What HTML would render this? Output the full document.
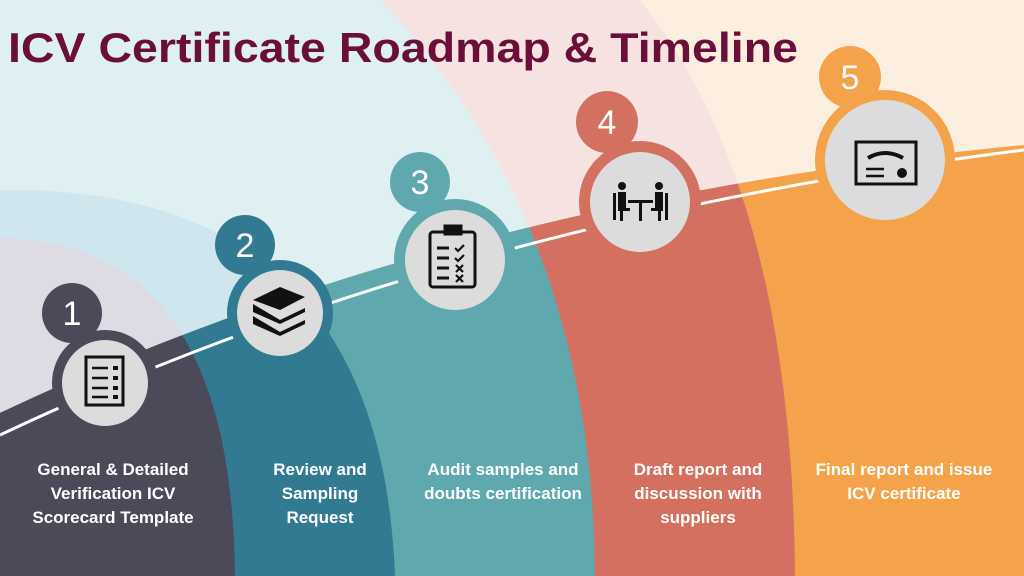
<!DOCTYPE html>
<html><head><meta charset="utf-8"><style>
html,body{margin:0;padding:0;width:1024px;height:576px;overflow:hidden;background:#fdefdf}
svg{display:block}
text{font-family:"Liberation Sans Narrow","Liberation Sans",sans-serif;font-weight:bold}
</style></head><body>
<svg width="1024" height="576" viewBox="0 0 1024 576" xmlns="http://www.w3.org/2000/svg">
<defs>
<clipPath id="below"><path d="M0,413 Q450,200 1024,145 L1024,576 L0,576 Z"/></clipPath>
</defs>
<rect width="1024" height="576" fill="#fdefdf"/>
<path d="M640,0 Q792,190 795,576 L0,576 L0,0Z" fill="#f6e2e1"/>
<path d="M380,0 Q592,220 595,576 L0,576 L0,0Z" fill="#dff0f2"/>
<path d="M0,190 Q380,185 395,576 L0,576Z" fill="#cfe6ee"/>
<path d="M0,238 Q232,240 235,576 L0,576Z" fill="#dddbe3"/>
<g clip-path="url(#below)">
<rect width="1024" height="576" fill="#f5a34b"/>
<path d="M640,0 Q792,190 795,576 L0,576 L0,0Z" fill="#d4705f"/>
<path d="M380,0 Q592,220 595,576 L0,576 L0,0Z" fill="#5fa9ae"/>
<path d="M0,190 Q380,185 395,576 L0,576Z" fill="#317a92"/>
<path d="M0,238 Q232,240 235,576 L0,576Z" fill="#4a4a58"/>
</g>
<path d="M0,435 Q450,222 1024,150" fill="none" stroke="#fff" stroke-width="3"/>
<text x="8" y="62" font-size="42" fill="#6b0f3a" textLength="790" lengthAdjust="spacingAndGlyphs" style="font-family:'Liberation Sans',sans-serif">ICV Certificate Roadmap &amp; Timeline</text>
<g>
<circle cx="72" cy="313" r="30" fill="#4a4a58"/><circle cx="105" cy="383" r="53" fill="#4a4a58"/><circle cx="105" cy="383" r="43" fill="#dcdcdc"/>
<circle cx="245" cy="245" r="30" fill="#317a92"/><circle cx="280" cy="313" r="53" fill="#317a92"/><circle cx="280" cy="313" r="43" fill="#dcdcdc"/>
<circle cx="420" cy="182" r="30" fill="#5fa9ae"/><circle cx="455" cy="260" r="61" fill="#5fa9ae"/><circle cx="455" cy="260" r="50" fill="#dcdcdc"/>
<circle cx="607" cy="122" r="31" fill="#d4705f"/><circle cx="640" cy="202" r="61" fill="#d4705f"/><circle cx="640" cy="202" r="50" fill="#dcdcdc"/>
<circle cx="850" cy="77" r="31" fill="#f5a34b"/><circle cx="885" cy="160" r="70" fill="#f5a34b"/><circle cx="885" cy="160" r="60" fill="#dcdcdc"/>
</g>
<g fill="#fff" font-size="34" text-anchor="middle">
<text x="72" y="325" style="font-family:'Liberation Sans',sans-serif;font-weight:normal">1</text>
<text x="245" y="257" style="font-family:'Liberation Sans',sans-serif;font-weight:normal">2</text>
<text x="420" y="194" style="font-family:'Liberation Sans',sans-serif;font-weight:normal">3</text>
<text x="607" y="134" style="font-family:'Liberation Sans',sans-serif;font-weight:normal">4</text>
<text x="850" y="89" style="font-family:'Liberation Sans',sans-serif;font-weight:normal">5</text>
</g>
<g stroke="#111" fill="none" stroke-width="3">
<rect x="86" y="357" width="37" height="48"/>
<path d="M92,368h16M92,378h16M92,388h16M92,397h16" stroke-width="2.5"/>
<path d="M113,368h5M113,378h5M113,388h5M113,397h5" stroke-width="4"/>
</g>
<g fill="#111">
<path d="M253,300 L280,287 L305,297 L280,310Z"/>
<path d="M253,304 v8 l27,12 l25,-12 v-4 l-25,12z"/>
<path d="M253,316 v8 l27,12 l25,-12 v-4 l-25,12z"/>
</g>
<g stroke="#111" fill="none" stroke-width="3">
<rect x="430" y="232" width="45" height="55" rx="3"/>
<rect x="445" y="226" width="16" height="8" fill="#111"/>
<path d="M437,248h12M437,258h12M437,268h12M437,278h12" stroke-width="3"/>
<path d="M455,248l3,3 6,-6M455,258l3,3 6,-6M456,265l7,7M463,265l-7,7M456,275l7,7M463,275l-7,7" stroke-width="2.2"/>
</g>
<g fill="#111">
<circle cx="622" cy="186" r="4"/><circle cx="659" cy="186" r="4"/>
<rect x="618" y="192" width="8" height="16"/><rect x="655" y="192" width="8" height="16"/>
<rect x="628" y="200" width="25" height="3"/><rect x="639" y="203" width="3" height="18"/>
<rect x="613" y="193" width="3" height="27"/><rect x="665" y="193" width="3" height="27"/>
<rect x="618" y="208" width="12" height="3"/><rect x="651" y="208" width="12" height="3"/>
<rect x="620" y="211" width="3" height="10"/><rect x="658" y="211" width="3" height="10"/>
</g>
<g stroke="#111" fill="none" stroke-width="3">
<rect x="856" y="142" width="60" height="42"/>
<path d="M868,158 Q885,148 903,158" stroke-width="4"/>
<path d="M866,169h18M866,176h18" stroke-width="2.5"/>
<circle cx="902" cy="173" r="3.5" fill="#111"/>
</g>
<g fill="#fff" font-size="17" text-anchor="middle">
<text x="113" y="475">General &amp; Detailed</text>
<text x="113" y="499">Verification ICV</text>
<text x="113" y="523">Scorecard Template</text>
<text x="320" y="475">Review and</text>
<text x="320" y="499">Sampling</text>
<text x="320" y="523">Request</text>
<text x="503" y="475">Audit samples and</text>
<text x="503" y="499">doubts certification</text>
<text x="698" y="475">Draft report and</text>
<text x="698" y="499">discussion with</text>
<text x="698" y="523">suppliers</text>
<text x="904" y="475">Final report and issue</text>
<text x="904" y="499">ICV certificate</text>
</g>
</svg>
</body></html>
